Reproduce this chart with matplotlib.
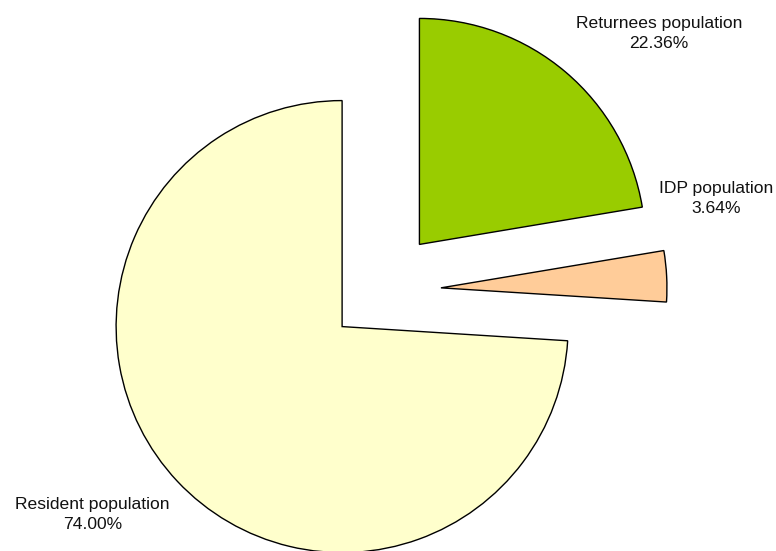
import matplotlib
matplotlib.use("Agg")
import matplotlib.pyplot as plt

# data
categories = ["Returnees population", "IDP population", "Resident population"]
shares = [22.36, 3.64, 74.00]
colors = ["#99CC00", "#FFCC99", "#FFFFCC"]
explode = [0.27, 0.27, 0.23]

# label anchor points in figure fractions
labelPos = [(0.849, 0.939), (0.923, 0.640), (0.119, 0.066)]

W, H = 776, 551
cx, cy, R = 380, 291, 226  # pie centre and radius in pixels

fig = plt.figure(figsize=(W / 100, H / 100), dpi=100)
ax = fig.add_axes([0, 0, 1, 1])

ax.pie(shares, colors=colors, explode=explode, startangle=90,
       counterclock=False, radius=1,
       wedgeprops=dict(edgecolor="black", linewidth=1.0))

ax.set_xlim(-cx / R, (W - cx) / R)
ax.set_ylim(-(H - cy) / R, cy / R)
ax.set_aspect("auto")
ax.axis("off")

for name, val, (lx, ly) in zip(categories, shares, labelPos):
    fig.text(lx, ly, f"{name}\n{val:.2f}%", ha="center", va="center",
             fontsize=12.6, family="Liberation Sans", color="#111111",
             linespacing=1.45)

fig.savefig("out.png", dpi=100)
